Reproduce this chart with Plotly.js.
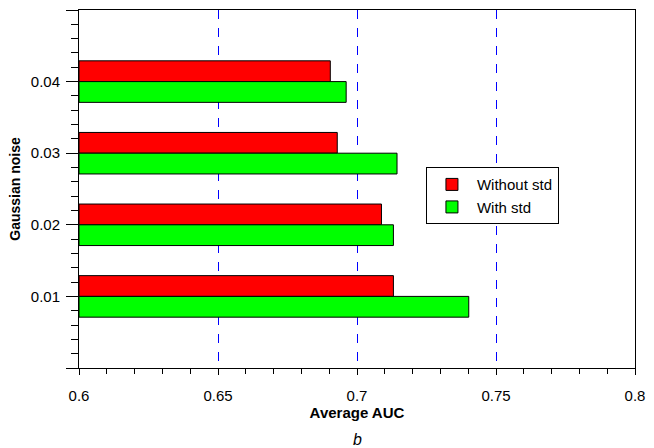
<!DOCTYPE html>
<html>
<head>
<meta charset="utf-8">
<script src="https://cdn.plot.ly/plotly-3.0.1.min.js"></script>
<style>html,body{margin:0;padding:0;background:#fff}#chart{width:654px;height:448px}</style>
</head>
<body>
<div id="chart"></div>
<script>
const noiseLevels = [0.01, 0.02, 0.03, 0.04];
const withoutStd = [0.7131, 0.7088, 0.6929, 0.6904];
const withStd = [0.7402, 0.7131, 0.7144, 0.6961];
const yTickVals = [0, 0.01, 0.02, 0.03, 0.04, 0.05];
const yTickText = ["", "0.01", "0.02", "0.03", "0.04", ""];
const xTickVals = [0.6, 0.65, 0.7, 0.75, 0.8];
const xTickText = ["0.6", "0.65", "0.7", "0.75", "0.8"];

const FONT = "Liberation Sans, Arial, Helvetica, sans-serif";
const BASE = 0.6;
const barW = 0.0029;

const traces = [
  {
    type: 'bar', orientation: 'h', name: 'Without std',
    x: withoutStd.map(v => v - BASE), y: noiseLevels, base: BASE,
    width: barW, offset: 0,
    marker: {color: '#ff0000', line: {color: '#000', width: 1}}
  },
  {
    type: 'bar', orientation: 'h', name: 'With std',
    x: withStd.map(v => v - BASE), y: noiseLevels, base: BASE,
    width: barW, offset: -barW,
    marker: {color: '#00ff00', line: {color: '#000', width: 1}}
  }
];

const layout = {
  width: 654, height: 448,
  margin: {l: 79, r: 19, t: 10, b: 80},
  paper_bgcolor: '#fff', plot_bgcolor: '#fff',
  font: {family: FONT, size: 15, color: '#000'},
  barmode: 'overlay',
  showlegend: true,
  legend: {
    x: 0.624, y: 0.561, xanchor: 'left', yanchor: 'top',
    bordercolor: '#000', borderwidth: 1, bgcolor: '#fff',
    font: {family: FONT, size: 15, color: '#000'},
    tracegroupgap: 0, itemwidth: 40
  },
  xaxis: {
    range: [0.6, 0.8], tickmode: 'array', tickvals: xTickVals, ticktext: xTickText,
    showgrid: true, gridcolor: '#0000ff', griddash: 'dash', gridwidth: 1,
    zeroline: false, showline: true, linecolor: '#000', linewidth: 1, mirror: true,
    ticks: 'outside', ticklen: 6, tickcolor: '#000', tickwidth: 1,
    ticklabelstandoff: 8,
    minor: {dtick: 0.01, tick0: 0.6, ticks: 'outside', ticklen: 5, tickcolor: '#000', showgrid: false},
    tickfont: {family: FONT, size: 15},
    title: {text: '<b>Average AUC</b>', font: {family: FONT, size: 15}, standoff: 1}
  },
  yaxis: {
    range: [0, 0.05], tickmode: 'array', tickvals: yTickVals, ticktext: yTickText,
    showgrid: false, zeroline: false, showline: true, linecolor: '#000', linewidth: 1, mirror: true,
    ticks: 'outside', ticklen: 12, tickcolor: '#000', tickwidth: 1,
    ticklabelstandoff: 3,
    minor: {dtick: 0.002, tick0: 0, ticks: 'outside', ticklen: 7, tickcolor: '#000', showgrid: false},
    tickfont: {family: FONT, size: 15},
    title: {text: '<b>Gaussian noise</b>', font: {family: FONT, size: 14}, standoff: 6}
  },
  annotations: [{
    text: '<i>b</i>', xref: 'paper', yref: 'paper', x: 0.5, y: -0.2, yanchor: 'middle',
    showarrow: false, font: {family: FONT, size: 16, color: '#000'}
  }]
};

Plotly.newPlot('chart', traces, layout, {displayModeBar: false, staticPlot: true});
</script>
</body>
</html>
